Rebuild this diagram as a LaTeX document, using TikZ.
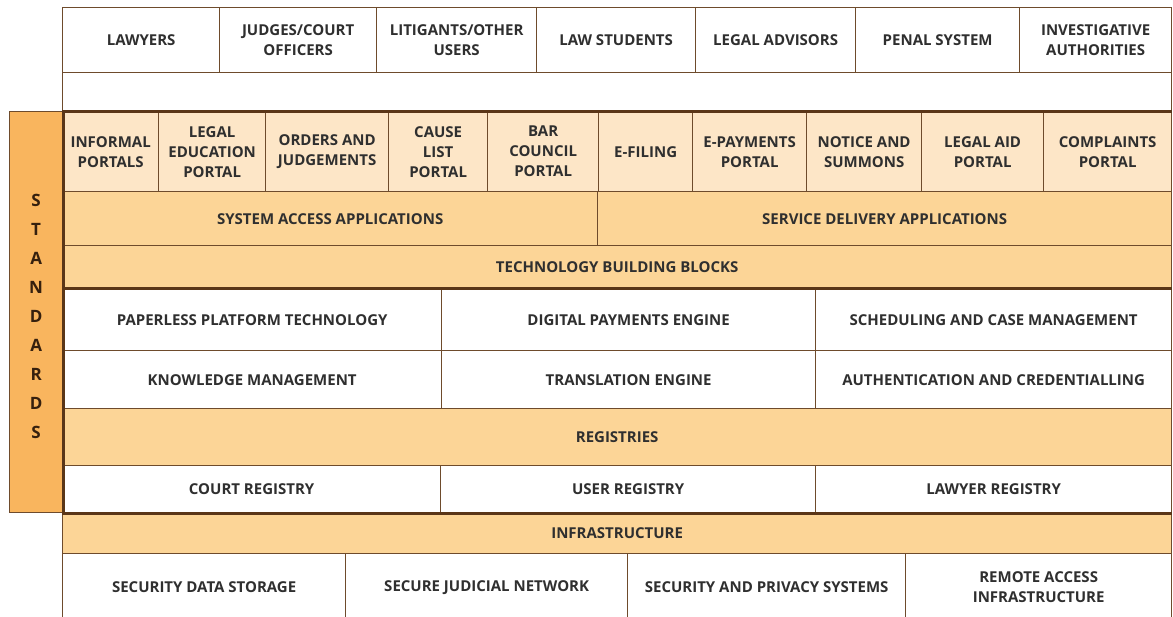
\documentclass[tikz,border=0pt]{standalone}
\usepackage{fontspec}
\setmainfont{Open Sans}
\usetikzlibrary{positioning}

\definecolor{brownline}{HTML}{6E4B2C}
\definecolor{darkline}{HTML}{5A3618}
\definecolor{paleorange}{HTML}{FDE6C7}
\definecolor{midorange}{HTML}{FCD597}
\definecolor{deeporange}{HTML}{F9B55E}
\definecolor{labelgray}{HTML}{2F2F2F}

\tikzset{
  cell/.style={draw=brownline, line width=1.3pt, fill=white, align=center,
    inner sep=0pt, anchor=north west, text=labelgray,
    font=\bfseries\fontsize{15}{20}\selectfont},
  portal/.style={cell, fill=paleorange},
  band/.style={cell, fill=midorange},
  thickrule/.style={draw=darkline, line width=3pt},
}

% name, style, x1, y1, x2, y2, text
\newcommand{\cellbox}[7]{%
  \pgfmathsetmacro\cw{#5-#3}\pgfmathsetmacro\ch{#6-#4}%
  \node[#2, minimum width=\cw pt, minimum height=\ch pt] (#1) at (#3,#4) {#7};}

\begin{document}
\begin{tikzpicture}[x=1pt,y=-1pt]
  \useasboundingbox (0,0) rectangle (1173,616);

  % users
  \cellbox{u1}{cell}{62}{7}{219}{72}{LAWYERS}
  \cellbox{u2}{cell}{219}{7}{376}{72}{JUDGES/COURT\\OFFICERS}
  \cellbox{u3}{cell}{376}{7}{536}{72}{LITIGANTS/OTHER\\USERS}
  \cellbox{u4}{cell}{536}{7}{695}{72}{LAW STUDENTS}
  \cellbox{u5}{cell}{695}{7}{855}{72}{LEGAL ADVISORS}
  \cellbox{u6}{cell}{855}{7}{1019}{72}{PENAL SYSTEM}
  \cellbox{u7}{cell}{1019}{7}{1171}{72}{INVESTIGATIVE\\AUTHORITIES}
  \cellbox{gap}{cell}{62}{72}{1171}{111}{}

  % portals
  \cellbox{p1}{portal}{62}{111}{158}{191}{INFORMAL\\PORTALS}
  \cellbox{p2}{portal}{158}{111}{265}{191}{LEGAL\\EDUCATION\\PORTAL}
  \cellbox{p3}{portal}{265}{111}{388}{191}{ORDERS AND\\JUDGEMENTS}
  \cellbox{p4}{portal}{388}{111}{487}{191}{CAUSE\\LIST\\PORTAL}
  \cellbox{p5}{portal}{487}{111}{598}{191}{BAR\\COUNCIL\\PORTAL}
  \cellbox{p6}{portal}{598}{111}{692}{191}{E-FILING}
  \cellbox{p7}{portal}{692}{111}{806}{191}{E-PAYMENTS\\PORTAL}
  \cellbox{p8}{portal}{806}{111}{921}{191}{NOTICE AND\\SUMMONS}
  \cellbox{p9}{portal}{921}{111}{1043}{191}{LEGAL AID\\PORTAL}
  \cellbox{p10}{portal}{1043}{111}{1171}{191}{COMPLAINTS\\PORTAL}

  % applications
  \cellbox{sysapp}{band}{62}{191}{597}{245}{SYSTEM ACCESS APPLICATIONS}
  \cellbox{svcapp}{band}{597}{191}{1171}{245}{SERVICE DELIVERY APPLICATIONS}
  \cellbox{tbb}{band}{62}{245}{1171}{288}{TECHNOLOGY BUILDING BLOCKS}

  % building blocks
  \cellbox{b1}{cell}{62}{288}{441}{350}{PAPERLESS PLATFORM TECHNOLOGY}
  \cellbox{b2}{cell}{441}{288}{815}{350}{DIGITAL PAYMENTS ENGINE}
  \cellbox{b3}{cell}{815}{288}{1171}{350}{SCHEDULING AND CASE MANAGEMENT}
  \cellbox{b4}{cell}{62}{350}{441}{408}{KNOWLEDGE MANAGEMENT}
  \cellbox{b5}{cell}{441}{350}{815}{408}{TRANSLATION ENGINE}
  \cellbox{b6}{cell}{815}{350}{1171}{408}{AUTHENTICATION AND CREDENTIALLING}

  % registries
  \cellbox{reg}{band}{62}{408}{1171}{465}{REGISTRIES}
  \cellbox{r1}{cell}{62}{465}{440}{512}{COURT REGISTRY}
  \cellbox{r2}{cell}{440}{465}{815}{512}{USER REGISTRY}
  \cellbox{r3}{cell}{815}{465}{1171}{512}{LAWYER REGISTRY}

  % infrastructure
  \cellbox{infra}{band}{62}{512}{1171}{553}{INFRASTRUCTURE}
  \cellbox{i1}{cell}{62}{553}{345}{620}{SECURITY DATA STORAGE}
  \cellbox{i2}{cell}{345}{553}{627}{620}{SECURE JUDICIAL NETWORK}
  \cellbox{i3}{cell}{627}{553}{905}{620}{SECURITY AND PRIVACY SYSTEMS}
  \cellbox{i4}{cell}{905}{553}{1171}{620}{REMOTE ACCESS\\INFRASTRUCTURE}

  % standards column
  \cellbox{std}{cell}{9}{111}{62}{512}{}
  \node[fill=deeporange, draw=brownline, line width=1.3pt, minimum width=53pt,
    minimum height=401pt, anchor=north west, inner sep=0pt] (stdfill) at (std.north west) {};
  \node[align=center, text=darkline!60!black, font=\bfseries\fontsize{17}{29}\selectfont]
    (stdtext) at ([yshift=-4pt]stdfill.center) {S\\T\\A\\N\\D\\A\\R\\D\\S};

  % heavy rules
  \draw[thickrule] (p1.north west) -- (p10.north east);
  \draw[thickrule] (b1.north west) -- (b3.north east);
  \draw[thickrule] (r1.south west) -- (r3.south east);
  \draw[thickrule] (stdfill.north east) -- (stdfill.south east);
\end{tikzpicture}
\end{document}
